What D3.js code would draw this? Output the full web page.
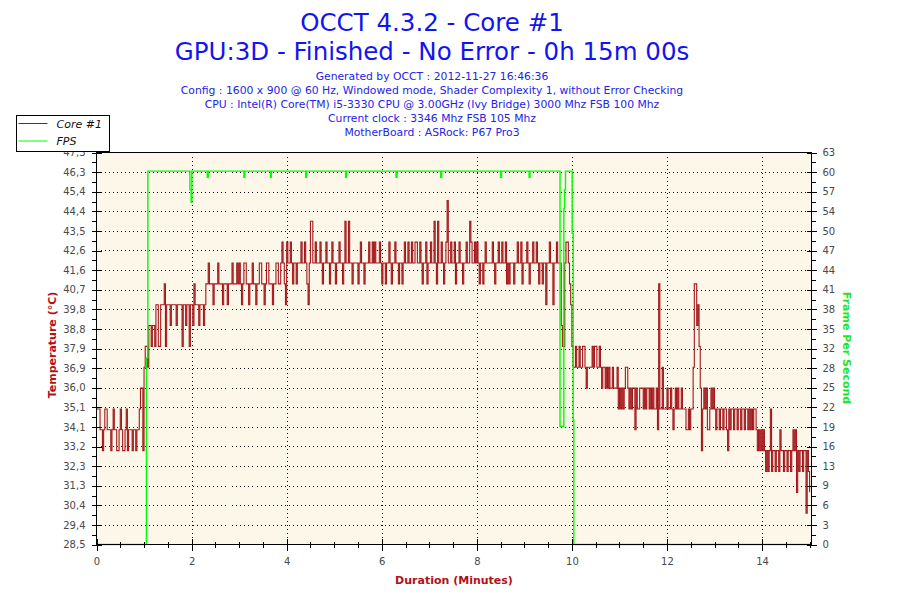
<!DOCTYPE html>
<html>
<head>
<meta charset="utf-8">
<script src="https://cdn.jsdelivr.net/npm/d3@7"></script>
<style>
  body { margin: 0; background: #fff; }
  svg { display: block; }
  text { font-family: "DejaVu Sans", sans-serif; }
</style>
</head>
<body>
<svg id="chart" width="900" height="600"></svg>
<script>
// Header text, as printed by OCCT.
const titleLines = [
  "OCCT 4.3.2 - Core #1",
  "GPU:3D - Finished - No Error - 0h 15m 00s"
];
const infoLines = [
  "Generated by OCCT : 2012-11-27 16:46:36",
  "Config : 1600 x 900 @ 60 Hz, Windowed mode, Shader Complexity 1, without Error Checking",
  "CPU : Intel(R) Core(TM) i5-3330 CPU @ 3.00GHz (Ivy Bridge) 3000 Mhz FSB 100 Mhz",
  "Current clock : 3346 Mhz FSB 105 Mhz",
  "MotherBoard : ASRock: P67 Pro3"
];

// Axis ticks.
const tempTickLabels = ["28,5", "29,4", "30,4", "31,3", "32,3", "33,2", "34,1",
  "35,1", "36,0", "36,9", "37,9", "38,8", "39,8", "40,7", "41,6", "42,6",
  "43,5", "44,4", "45,4", "46,3", "47,3"];
const fpsTickLabels = ["0", "3", "6", "9", "13", "16", "19", "22", "25", "28",
  "32", "35", "38", "41", "44", "47", "50", "54", "57", "60", "63"];
const minuteTicks = [0, 2, 4, 6, 8, 10, 12, 14];

// Core #1 temperature (°C), one reading every 0.025 minute (two rows = one minute).
const tempStep = 0.025;
const coreTemp = [
  35, 35, 35, 34, 34, 33, 34, 35, 35, 34, 34, 34, 33, 34, 35, 34, 34, 33, 33, 34,
  35, 34, 33, 33, 34, 35, 33, 34, 34, 34, 33, 34, 34, 33, 34, 34, 35, 36, 36, 33,
  37, 38, 38, 37, 39, 39, 38, 39, 39, 38, 40, 40, 38, 38, 40, 40, 40, 41, 38, 40,
  40, 40, 39, 40, 40, 40, 40, 39, 40, 40, 40, 40, 38, 40, 40, 39, 40, 40, 38, 40,
  40, 39, 41, 40, 40, 40, 39, 40, 40, 40, 39, 40, 41, 41, 42, 41, 41, 41, 40, 41,
  41, 41, 42, 41, 41, 41, 40, 41, 41, 41, 40, 41, 41, 41, 42, 41, 41, 41, 42, 41,
  42, 41, 40, 41, 42, 42, 41, 41, 40, 41, 41, 42, 41, 41, 40, 41, 41, 42, 42, 41,
  41, 40, 41, 42, 42, 41, 41, 41, 40, 41, 41, 42, 42, 41, 41, 42, 43, 42, 41, 40,
  43, 42, 42, 43, 42, 41, 42, 42, 41, 42, 42, 42, 43, 42, 42, 43, 42, 41, 40, 42,
  44, 44, 42, 42, 43, 42, 42, 42, 43, 42, 41, 42, 42, 43, 42, 42, 41, 42, 43, 42,
  42, 41, 42, 42, 43, 42, 42, 41, 42, 44, 42, 42, 44, 42, 42, 41, 42, 42, 42, 42,
  41, 42, 43, 42, 42, 41, 42, 42, 42, 43, 42, 42, 43, 42, 43, 42, 42, 42, 43, 42,
  41, 42, 42, 41, 42, 42, 43, 42, 41, 42, 42, 43, 42, 42, 41, 42, 42, 41, 42, 43,
  42, 42, 43, 42, 42, 43, 42, 42, 43, 43, 42, 42, 43, 42, 41, 42, 42, 43, 41, 42,
  42, 43, 42, 42, 44, 42, 41, 44, 42, 42, 43, 42, 41, 42, 43, 45, 42, 42, 43, 42,
  42, 43, 41, 42, 42, 43, 42, 42, 41, 42, 42, 43, 42, 42, 44, 43, 42, 42, 43, 42,
  43, 42, 41, 42, 42, 41, 42, 43, 42, 42, 42, 42, 42, 43, 42, 41, 42, 42, 43, 42,
  42, 43, 42, 42, 43, 41, 42, 41, 42, 42, 42, 41, 42, 42, 43, 42, 42, 43, 41, 42,
  42, 42, 43, 42, 41, 42, 42, 43, 42, 42, 43, 42, 41, 42, 42, 41, 42, 42, 40, 42,
  42, 43, 42, 42, 40, 42, 42, 43, 42, 42, 42, 39, 38, 38, 42, 43, 43, 42, 41, 40,
  38, 37, 37, 38, 37, 37, 38, 37, 37, 38, 38, 37, 36, 37, 37, 37, 37, 38, 37, 38,
  38, 37, 37, 38, 37, 36, 37, 37, 36, 37, 36, 37, 36, 36, 37, 36, 36, 36, 37, 35,
  36, 35, 36, 35, 36, 37, 37, 36, 35, 36, 35, 36, 36, 34, 36, 35, 35, 36, 36, 36,
  35, 36, 35, 36, 36, 35, 36, 35, 36, 35, 35, 36, 34, 41, 35, 35, 37, 35, 35, 35,
  36, 35, 35, 36, 35, 34, 35, 36, 35, 36, 35, 35, 36, 35, 35, 35, 34, 34, 35, 34,
  35, 35, 37, 41, 41, 39, 40, 38, 36, 33, 35, 36, 35, 36, 34, 34, 35, 36, 35, 36,
  35, 34, 35, 35, 34, 35, 35, 34, 35, 35, 34, 33, 35, 34, 35, 35, 34, 35, 35, 34,
  35, 35, 34, 35, 35, 34, 35, 35, 34, 35, 34, 35, 34, 35, 35, 34, 33, 34, 33, 34,
  33, 34, 33, 32, 33, 32, 33, 35, 32, 33, 33, 32, 33, 33, 32, 34, 33, 33, 32, 33,
  33, 32, 33, 33, 32, 33, 34, 33, 34, 31, 33, 32, 33, 33, 32, 33, 33, 30, 33, 32,
  31
];

// Frames per second: minute at which the counter changes, and its new value.
const fpsTime = [0, 1.05, 1.08, 1.965, 1.99, 2.005, 2.33, 2.35, 3.1, 3.12,
  3.66, 3.68, 4.4, 4.42, 5.24, 5.26, 6.3, 6.32, 7.24, 7.26, 8.5, 8.52,
  9.1, 9.12, 9.75, 9.83, 9.845, 9.865, 10.005, 10.027, 10.04, 15.04];
const fpsValue = [0, 30, 60, 57, 55, 60, 59, 60, 59, 60,
  59, 60, 59, 60, 59, 60, 59, 60, 59, 60, 59, 60,
  59, 60, 19, 54, 57, 60, 50, 20, 0, 0];

const tempColor = "#a3181c";
const fpsColor = "#00ff00";
const labelColor = "#4a4a4a";

const svg = d3.select("#chart");
const plot = { left: 96.5, right: 811.5, top: 152.5, bottom: 544.5 };

const x = d3.scaleLinear().domain([0, 15.04]).range([plot.left, plot.right]);
const yTemp = d3.scaleLinear().domain([28.5, 47.3]).range([plot.bottom, plot.top]);
const yFps = d3.scaleLinear().domain([0, 63]).range([plot.bottom, plot.top]);

const tempTicks = tempTickLabels.map((_, i) => 28.5 + i * 0.94);
const tempMinor = tempTicks.slice(1).map(v => v - 0.47);
const fpsTicks = fpsTickLabels.map((_, i) => i * 3.15);
const fpsMinor = fpsTicks.slice(1).map(v => v - 1.575);
const minuteMinor = d3.range(0.5, 15.04, 0.5).filter(v => v % 2 !== 0);

// Header.
const header = svg.append("g").attr("fill", "#1414f0").attr("text-anchor", "middle");
header.selectAll("text.title")
  .data(titleLines)
  .join("text")
  .attr("class", "title")
  .attr("x", 432)
  .attr("y", (d, i) => 31 + i * 29)
  .attr("font-size", 24.5)
  .text(d => d);
header.selectAll("text.info")
  .data(infoLines)
  .join("text")
  .attr("class", "info")
  .attr("x", 432)
  .attr("y", (d, i) => 80 + i * 14)
  .attr("font-size", 10.8)
  .attr("fill", "#2424e6")
  .text(d => d);

// Plot background and dotted grid.
svg.append("rect")
  .attr("x", plot.left).attr("y", plot.top)
  .attr("width", plot.right - plot.left).attr("height", plot.bottom - plot.top)
  .attr("fill", "#fdf7e9");

const grid = svg.append("g")
  .attr("stroke", "#000")
  .attr("stroke-width", 1)
  .attr("stroke-dasharray", "1,3")
  .attr("shape-rendering", "crispEdges");
grid.selectAll("line.h")
  .data(tempTicks.slice(1, -1))
  .join("line")
  .attr("class", "h")
  .attr("x1", plot.left + 4).attr("x2", plot.right)
  .attr("y1", d => Math.round(yTemp(d)) + 0.5)
  .attr("y2", d => Math.round(yTemp(d)) + 0.5);
grid.selectAll("line.v")
  .data(minuteTicks.slice(1))
  .join("line")
  .attr("class", "v")
  .attr("y1", plot.top + 4).attr("y2", plot.bottom)
  .attr("x1", d => Math.round(x(d)) + 0.5)
  .attr("x2", d => Math.round(x(d)) + 0.5);

// Series.
const tempLine = d3.line()
  .x((d, i) => x(i * tempStep))
  .y(d => yTemp(d))
  .curve(d3.curveStepAfter);
svg.append("path")
  .datum(coreTemp)
  .attr("fill", "none")
  .attr("stroke", tempColor)
  .attr("stroke-width", 1.1)
  .attr("d", tempLine);

const fpsLine = d3.line()
  .x((d, i) => x(fpsTime[i]))
  .y(d => yFps(d))
  .curve(d3.curveStepAfter);
svg.append("path")
  .datum(fpsValue)
  .attr("fill", "none")
  .attr("stroke", fpsColor)
  .attr("stroke-width", 1.4)
  .attr("d", fpsLine);

// Frame around the plot.
svg.append("rect")
  .attr("x", plot.left).attr("y", plot.top)
  .attr("width", plot.right - plot.left).attr("height", plot.bottom - plot.top)
  .attr("fill", "none")
  .attr("stroke", "#000")
  .attr("shape-rendering", "crispEdges");

// Axes: major ticks cross the axis line, minor ticks are shorter.
function styleAxis(g, cross) {
  g.select(".domain").remove();
  g.selectAll(".tick line").attr("stroke", "#000").attr("shape-rendering", "crispEdges");
  if (cross) {
    g.selectAll(".tick line").each(function() {
      const line = d3.select(this);
      if (line.attr("x2")) line.attr("x1", -line.attr("x2"));
      if (line.attr("y2")) line.attr("y1", -line.attr("y2"));
    });
  }
  g.selectAll(".tick text")
    .attr("fill", labelColor)
    .attr("font-size", 10)
    .attr("font-family", "'DejaVu Sans Condensed', 'DejaVu Sans', sans-serif");
}

svg.append("g")
  .attr("transform", `translate(${plot.left},0)`)
  .call(d3.axisLeft(yTemp).tickValues(tempMinor).tickFormat("").tickSize(5))
  .call(g => styleAxis(g, false));
svg.append("g")
  .attr("transform", `translate(${plot.left},0)`)
  .call(d3.axisLeft(yTemp).tickValues(tempTicks)
    .tickFormat((d, i) => tempTickLabels[i]).tickSize(5).tickPadding(6))
  .call(g => styleAxis(g, true));

svg.append("g")
  .attr("transform", `translate(${plot.right},0)`)
  .call(d3.axisRight(yFps).tickValues(fpsMinor).tickFormat("").tickSize(4))
  .call(g => styleAxis(g, false));
svg.append("g")
  .attr("transform", `translate(${plot.right},0)`)
  .call(d3.axisRight(yFps).tickValues(fpsTicks)
    .tickFormat((d, i) => fpsTickLabels[i]).tickSize(5).tickPadding(6))
  .call(g => styleAxis(g, true));

svg.append("g")
  .attr("transform", `translate(0,${plot.bottom})`)
  .call(d3.axisBottom(x).tickValues(minuteMinor).tickFormat("").tickSize(3))
  .call(g => styleAxis(g, true));
svg.append("g")
  .attr("transform", `translate(0,${plot.bottom})`)
  .call(d3.axisBottom(x).tickValues(minuteTicks).tickFormat(d3.format("d"))
    .tickSize(6).tickPadding(7))
  .call(g => styleAxis(g, true));

// Axis titles.
const axisTitle = (txt, color) => svg.append("text")
  .attr("font-family", "'Liberation Sans', Arial, sans-serif")
  .attr("font-weight", "bold")
  .attr("font-size", 11)
  .attr("text-anchor", "middle")
  .attr("fill", color)
  .text(txt);
axisTitle("Duration (Minutes)", "#b3101a").attr("x", 454).attr("y", 584);
axisTitle("Temperature (°C)", "#b3101a").attr("transform", "translate(56,345) rotate(-90)");
axisTitle("Frame Per Second", "#1ee61e").attr("transform", "translate(843,348) rotate(90)");

// Legend, drawn last so it covers the top label like the original.
const legendItems = [
  { name: "Core #1", color: "#8b1a1a" },
  { name: "FPS", color: fpsColor }
];
const legend = svg.append("g").attr("transform", "translate(16.5,115.5)");
legend.append("rect")
  .attr("width", 93).attr("height", 36)
  .attr("fill", "#fff").attr("stroke", "#000")
  .attr("shape-rendering", "crispEdges");
const item = legend.selectAll("g.item")
  .data(legendItems)
  .join("g")
  .attr("class", "item")
  .attr("transform", (d, i) => `translate(0,${8 + i * 17.5})`);
item.append("line")
  .attr("x1", 2).attr("x2", 31)
  .attr("stroke", d => d.color)
  .attr("stroke-width", 1);
item.append("text")
  .attr("x", 40).attr("y", 4)
  .attr("font-family", "'Liberation Sans', Arial, sans-serif")
  .attr("font-style", "italic")
  .attr("font-size", 11)
  .attr("fill", "#111")
  .text(d => d.name);
</script>
</body>
</html>
